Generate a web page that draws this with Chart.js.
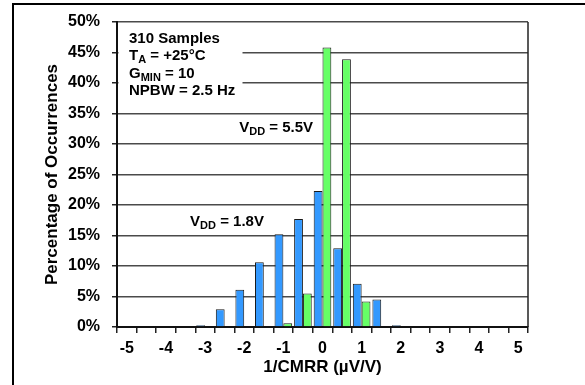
<!DOCTYPE html>
<html>
<head>
<meta charset="utf-8">
<script src="https://cdn.jsdelivr.net/npm/chart.js@4.4.1/dist/chart.umd.min.js"></script>
<style>
    html, body { margin: 0; padding: 0; background: #fff; }
    #wrap { position: relative; width: 585px; height: 385px; overflow: hidden; }
    #frame { position: absolute; left: 12px; top: 3px; width: 620px; height: 420px; border: 2px solid #000; box-sizing: border-box; pointer-events: none; }
    canvas { position: absolute; left: 0; top: 0; }
</style>
</head>
<body>
<div id="wrap">
    <canvas id="hist" width="585" height="385"></canvas>
    <div id="frame"></div>
</div>
<script>
//..bins of 1/CMRR (uV/V), half-unit wide
const bins = ['-5', '-4.5', '-4', '-3.5', '-3', '-2.5', '-2', '-1.5', '-1', '-0.5', '0',
              '0.5', '1', '1.5', '2', '2.5', '3', '3.5', '4', '4.5', '5'];

//..percentage of occurrences, 310 samples each
const vdd18 = [0, 0, 0, 0, 0.3, 2.9, 6.1, 10.6, 15.2, 17.7, 22.3, 12.9, 7.1, 4.5, 0.3, 0, 0, 0, 0, 0, 0];
const vdd55 = [0, 0, 0, 0, 0, 0, 0, 0, 0.6, 5.5, 45.8, 43.9, 4.2, 0, 0, 0, 0, 0, 0, 0, 0];

const yTicks = [0, 5, 10, 15, 20, 25, 30, 35, 40, 45, 50];

const FONT = 'Arial, "Liberation Sans", sans-serif';

function drawParts(ctx, x, y, parts) {
    //..draws text with subscripts, left to right
    parts.forEach(p => {
        if (p.sub) {
            ctx.font = 'bold 11px ' + FONT;
            ctx.fillText(p.t, x, y + 4);
        } else {
            ctx.font = 'bold 15px ' + FONT;
            ctx.fillText(p.t, x, y);
        }
        x += ctx.measureText(p.t).width;
    });
}

const notes = {
    id: 'notes',
    beforeDatasetsDraw(chart) {
        const {ctx, chartArea: a, scales} = chart;
        ctx.save();

        //..right side of the plot frame
        ctx.strokeStyle = '#222';
        ctx.lineWidth = 1.5;
        ctx.beginPath();
        ctx.moveTo(a.right, a.top);
        ctx.lineTo(a.right, a.bottom);
        ctx.stroke();

        //..white box behind conditions text
        ctx.fillStyle = '#fff';
        ctx.fillRect(a.left + 1.5, a.top + 2, 124, 76);

        ctx.fillStyle = '#000';
        ctx.textBaseline = 'middle';
        ctx.textAlign = 'left';
        const x0 = a.left + 12;
        drawParts(ctx, x0, a.top + 17, [{t: '310 Samples'}]);
        drawParts(ctx, x0, a.top + 34, [{t: 'T'}, {t: 'A', sub: true}, {t: ' = +25°C'}]);
        drawParts(ctx, x0, a.top + 52, [{t: 'G'}, {t: 'MIN', sub: true}, {t: ' = 10'}]);
        drawParts(ctx, x0, a.top + 69, [{t: 'NPBW = 2.5 Hz'}]);

        const ys = scales.y;
        const xs = scales.x;
        drawParts(ctx, xs.getPixelForValue(6) - 5, ys.getPixelForValue(32.6),
            [{t: 'V'}, {t: 'DD', sub: true}, {t: ' = 5.5V'}]);
        drawParts(ctx, xs.getPixelForValue(4) - 15, ys.getPixelForValue(17.2),
            [{t: 'V'}, {t: 'DD', sub: true}, {t: ' = 1.8V'}]);
        ctx.restore();
    }
};

new Chart(document.getElementById('hist'), {
    type: 'bar',
    data: {
        labels: bins,
        datasets: [{
            label: 'VDD = 1.8V',
            data: vdd18,
            backgroundColor: '#3399ff',
            borderColor: '#1a1a1a',
            borderWidth: 1,
            borderSkipped: 'start'
        }, {
            label: 'VDD = 5.5V',
            data: vdd55,
            backgroundColor: '#66ff66',
            borderColor: '#1a1a1a',
            borderWidth: 1,
            borderSkipped: 'start'
        }]
    },
    options: {
        responsive: false,
        animation: false,
        devicePixelRatio: 1,
        categoryPercentage: 0.9,
        barPercentage: 1,
        layout: { padding: { left: 38, top: 22, right: 57, bottom: 0 } },
        plugins: {
            legend: { display: false },
            tooltip: { enabled: false }
        },
        scales: {
            x: {
                afterFit: s => { s.height = 58; },
                grid: {
                    drawOnChartArea: false,
                    drawTicks: true,
                    tickLength: 6,
                    tickColor: '#222',
                    lineWidth: 1.5
                },
                border: { color: '#111', width: 2 },
                ticks: {
                    autoSkip: false,
                    maxRotation: 0,
                    padding: 6,
                    color: '#000',
                    font: { family: FONT, size: 16, weight: 'bold' },
                    callback: function (v) {
                        const lab = this.getLabelForValue(v);
                        return Number(lab) % 1 === 0 ? lab : '';
                    }
                },
                title: {
                    display: true,
                    text: '1/CMRR (µV/V)',
                    color: '#000',
                    padding: { top: 0, bottom: 7 },
                    font: { family: FONT, size: 17, weight: 'bold' }
                }
            },
            y: {
                min: 0,
                max: 50,
                afterFit: s => { s.width = 117 - 38; },
                afterBuildTicks: s => { s.ticks = yTicks.map(v => ({ value: v })); },
                grid: {
                    color: '#4a4a4a',
                    lineWidth: 1.5,
                    tickLength: 5,
                    tickColor: '#222'
                },
                border: { color: '#111', width: 2 },
                ticks: {
                    padding: 12,
                    color: '#000',
                    font: { family: FONT, size: 16, weight: 'bold' },
                    callback: v => v + '%'
                },
                title: {
                    display: true,
                    text: 'Percentage of Occurrences',
                    color: '#000',
                    padding: { top: 4, bottom: 0 },
                    font: { family: FONT, size: 17, weight: 'bold' }
                }
            }
        }
    },
    plugins: [notes]
});
</script>
</body>
</html>
